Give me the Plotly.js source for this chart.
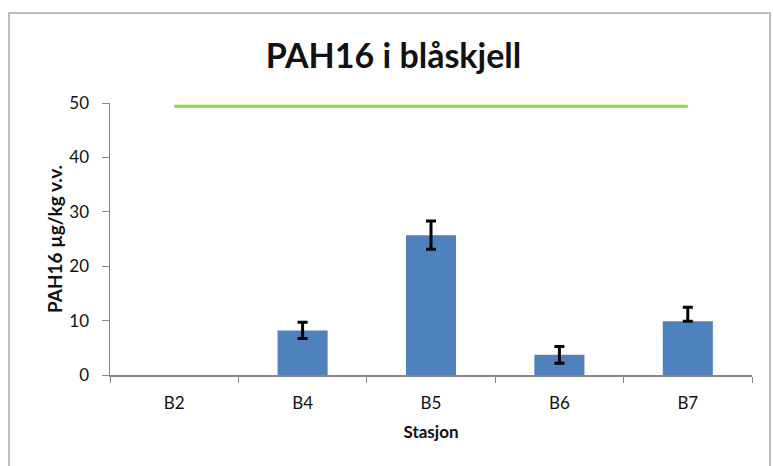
<!DOCTYPE html>
<html>
<head>
<meta charset="utf-8">
<script src="https://cdn.plot.ly/plotly-3.0.1.min.js"></script>
<style>
  html, body { margin: 0; padding: 0; background: #fff; }
  #wrap { position: relative; width: 773px; height: 466px; overflow: hidden; }
  #chart { position: absolute; left: 0; top: 0; width: 773px; height: 466px; }
  #frame { position: absolute; left: 8px; top: 12px; width: 763px; height: 470px;
           border: 2px solid #bdbdbd; pointer-events: none; box-sizing: border-box; }
</style>
</head>
<body>
<div id="wrap">
  <div id="chart"></div>
  <div id="frame"></div>
</div>
<script>
const stations = ["B2", "B4", "B5", "B6", "B7"];
const pah16 = [null, 8.2, 25.7, 3.7, 9.9];
const errPlus = [null, 1.5, 2.6, 1.55, 2.55];
const errMinus = [null, 1.5, 2.6, 1.55, 0];
const limitValue = [49.4, 49.4, 49.4, 49.4, 49.4];

const font = "Lato, 'Open Sans', sans-serif";

const traces = [
  {
    type: "bar",
    x: stations,
    y: pah16,
    marker: { color: "#4F81BD" },
    error_y: {
      type: "data",
      symmetric: false,
      array: errPlus,
      arrayminus: errMinus,
      color: "#000000",
      thickness: 3,
      width: 5
    },
    showlegend: false,
    hoverinfo: "x+y"
  },
  {
    type: "scatter",
    mode: "lines",
    x: stations,
    y: limitValue,
    line: { color: "#92D050", width: 3 },
    showlegend: false
  }
];

const layout = {
  width: 773,
  height: 466,
  margin: { l: 110, r: 21, t: 103, b: 91 },
  paper_bgcolor: "#ffffff",
  plot_bgcolor: "#ffffff",
  bargap: 0.61,
  font: { family: font, color: "#111111" },
  title: {
    text: "<b>PAH16 i blåskjell</b>",
    font: { family: font, size: 34, color: "#111111" },
    x: 0.509,
    xanchor: "center",
    y: 0.855,
    yanchor: "bottom",
    yref: "container"
  },
  xaxis: {
    type: "category",
    tickson: "boundaries",
    ticks: "outside",
    ticklen: 6,
    tickcolor: "#888888",
    ticklabelstandoff: 12,
    showline: true,
    linecolor: "#888888",
    linewidth: 1.5,
    showgrid: false,
    zeroline: false,
    tickfont: { size: 17, family: font, color: "#111111" },
    title: { text: "<b>Stasjon</b>", font: { size: 17, family: font, color: "#111111" }, standoff: 14 }
  },
  yaxis: {
    range: [0, 50],
    dtick: 10,
    ticks: "outside",
    ticklen: 7,
    tickcolor: "#888888",
    ticklabelstandoff: 9,
    showline: true,
    linecolor: "#888888",
    linewidth: 1.5,
    showgrid: false,
    zeroline: false,
    tickfont: { size: 17, family: font, color: "#111111" },
    title: { text: "<b>PAH16 µg/kg v.v.</b>", font: { size: 19, family: font, color: "#111111" }, standoff: 1 }
  }
};

Plotly.newPlot("chart", traces, layout, { displayModeBar: false, staticPlot: true });
</script>
</body>
</html>
